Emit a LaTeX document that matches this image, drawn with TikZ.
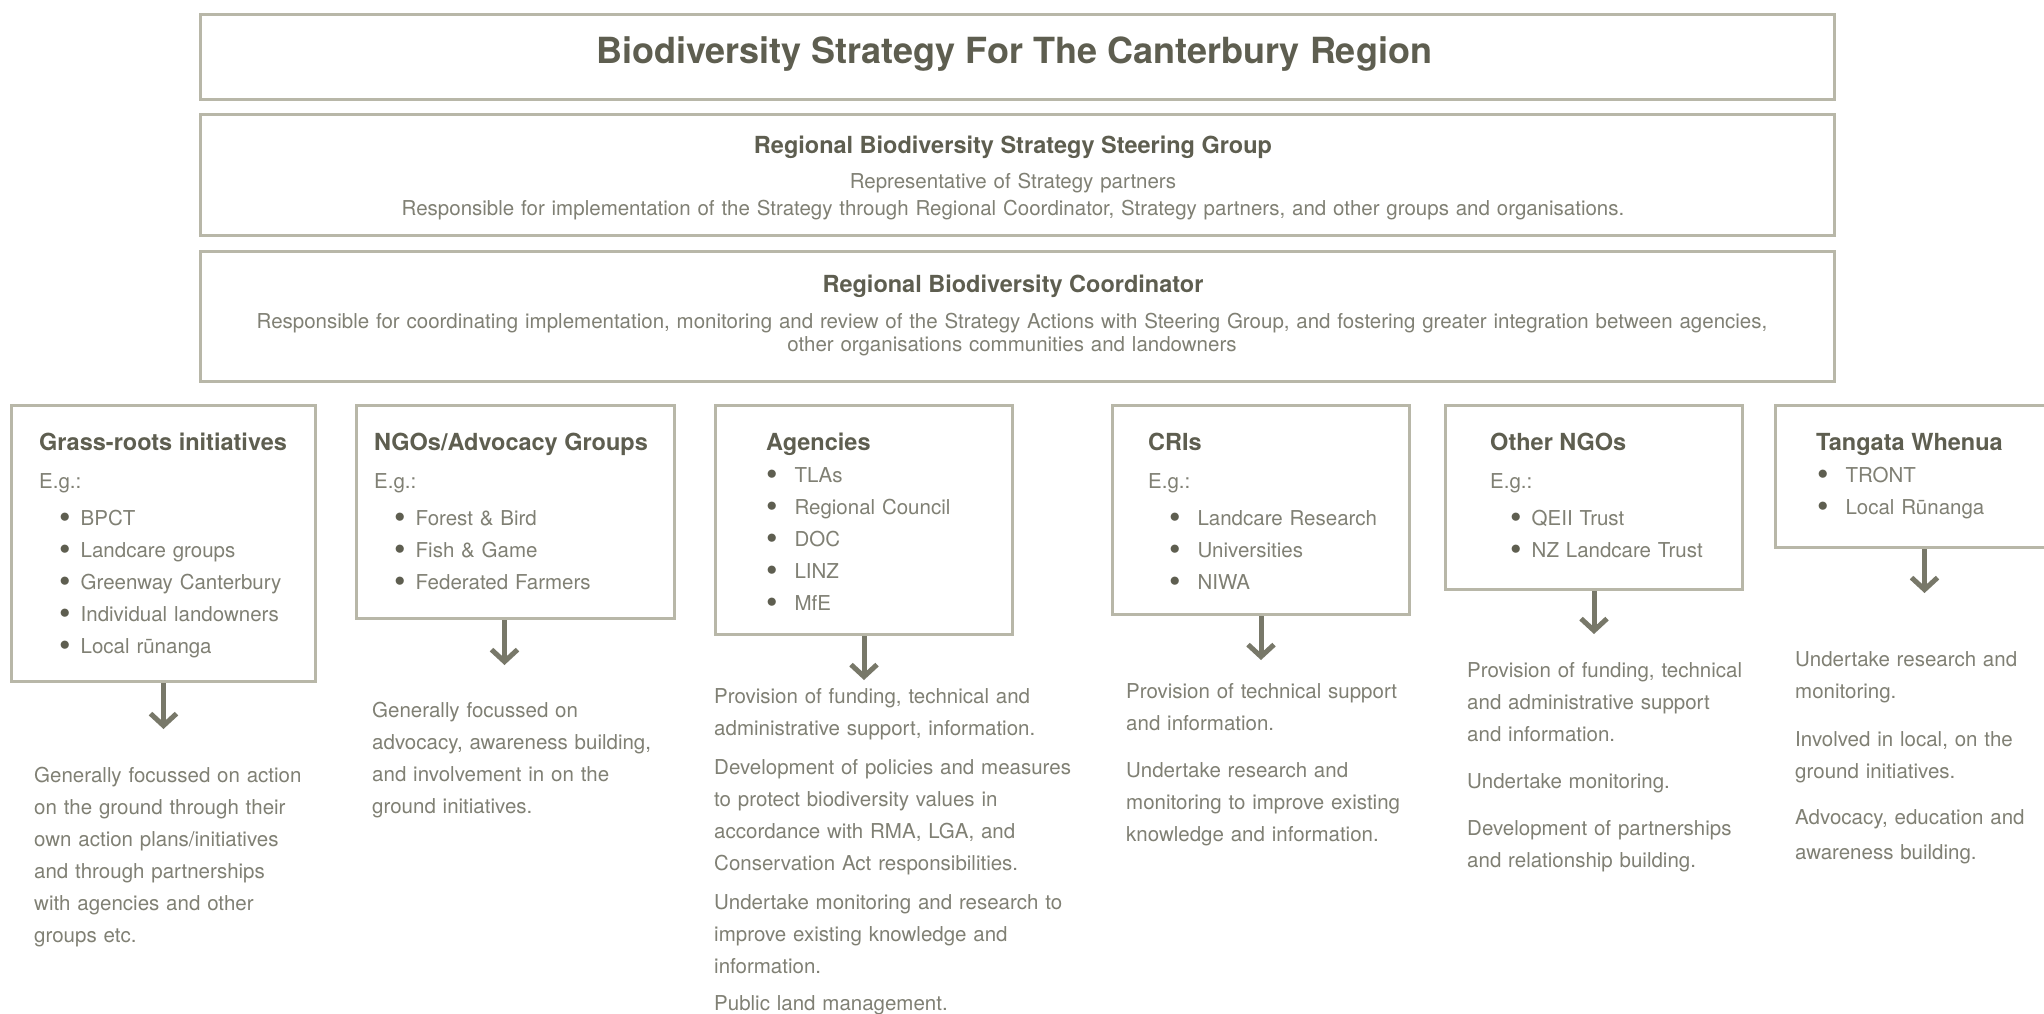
\documentclass[tikz,border=0pt]{standalone}
\usepackage{fontspec}
\setmainfont{TeX Gyre Heros}
\usetikzlibrary{
    positioning,
    arrows.meta
}
\definecolor{boxline}{RGB}{184,183,168}
\definecolor{headink}{RGB}{94,94,80}
\definecolor{bodyink}{RGB}{128,128,116}
\definecolor{arrowink}{RGB}{120,120,105}
% bullet item: space before the dot, then a larger dot
\newcommand{\itm}[1][20pt]{\hspace*{#1}{\color{headink}\raisebox{-3pt}{\scalebox{1.6}{\textbullet}}}\hspace{10pt}}
\tikzset{
  box/.style={
    draw=boxline,
    line width=3pt,
    inner sep=0pt,
    anchor=north west
  },
  maintitle/.style={
    anchor=base,
    inner sep=0pt,
    text=headink,
    font=\fontsize{36}{40}\selectfont\bfseries
  },
  head/.style={
    anchor=base west,
    inner sep=0pt,
    text=headink,
    font=\fontsize{23.5}{28}\selectfont\bfseries
  },
  body/.style={
    anchor=base west,
    inner sep=0pt,
    text=bodyink,
    text width=360pt,
    align=left,
    font=\fontsize{20.5}{32}\selectfont
  },
  centrebody/.style={
    anchor=base,
    inner sep=0pt,
    text=bodyink,
    text width=1600pt,
    align=center,
    font=\fontsize{20.5}{27}\selectfont
  },
  flow/.style={
    draw=arrowink,
    line width=5pt,
    -{Straight Barb[length=12pt,width=26pt]}
  }
}

\begin{document}
\begin{tikzpicture}[x=1pt,y=-1pt]
    \useasboundingbox (0,0) rectangle (2044,1013);
    \clip (0,0) rectangle (2044,1013);
    \fill[white] (0,0) rectangle (2044,1013);

    % top boxes
    \node[box,minimum width=1634,minimum height=85] (strategy) at (199,13) {};
    \node[box,minimum width=1634,minimum height=121] (steering) at (199,113) {};
    \node[box,minimum width=1634,minimum height=130] (coord) at (199,250) {};

    \node[maintitle] (strategytitle) at (1014,63) {Biodiversity Strategy For The Canterbury Region};
    \node[head,anchor=base] (steeringhead) at (1013,153) {Regional Biodiversity Strategy Steering Group};
    \node[centrebody] (steeringbody) at (1013,188) {Representative of Strategy partners\\
      Responsible for implementation of the Strategy through Regional Coordinator, Strategy partners, and other groups and organisations.};
    \node[head,anchor=base] (coordhead) at (1013,292) {Regional Biodiversity Coordinator};
    \node[centrebody,font=\fontsize{20.5}{23}\selectfont] (coordbody) at (1012,328) {Responsible for coordinating implementation, monitoring and review of the Strategy Actions with Steering Group, and fostering greater integration between agencies,\\
      other organisations communities and landowners};

    % partner boxes
    \node[box,minimum width=304,minimum height=276] (grass) at (10,404) {};
    \node[box,minimum width=318,minimum height=213] (ngo) at (355,404) {};
    \node[box,minimum width=297,minimum height=229] (agency) at (714,404) {};
    \node[box,minimum width=297,minimum height=209] (cri) at (1111,404) {};
    \node[box,minimum width=297,minimum height=184] (other) at (1444,404) {};
    \node[box,minimum width=298,minimum height=142] (tangata) at (1774,404) {};

    \node[head] (grasshead) at (39,450) {Grass-roots initiatives};
    \node[body] (grasslist) at (39,488) {E.g.:\\[5pt]
      \itm BPCT\\
      \itm Landcare groups\\
      \itm Greenway Canterbury\\
      \itm Individual landowners\\
      \itm Local rūnanga};

    \node[head] (ngohead) at (374,450) {NGOs/Advocacy Groups};
    \node[body] (ngolist) at (374,488) {E.g.:\\[5pt]
      \itm Forest \& Bird\\
      \itm Fish \& Game\\
      \itm Federated Farmers};

    \node[head] (agencyhead) at (766,450) {Agencies};
    \node[body] (agencylist) at (766,482) {\itm[0pt] TLAs\\
      \itm[0pt] Regional Council\\
      \itm[0pt] DOC\\
      \itm[0pt] LINZ\\
      \itm[0pt] MfE};

    \node[head] (crihead) at (1148,450) {CRIs};
    \node[body] (crilist) at (1148,488) {E.g.:\\[5pt]
      \itm[21pt] Landcare Research\\
      \itm[21pt] Universities\\
      \itm[21pt] NIWA};

    \node[head] (otherhead) at (1490,450) {Other NGOs};
    \node[body] (otherlist) at (1490,488) {E.g.:\\[5pt]
      \itm QEII Trust\\
      \itm NZ Landcare Trust};

    \node[head] (tangatahead) at (1816,450) {Tangata Whenua};
    \node[body,text width=220pt] (tangatalist) at (1816,482) {\itm[1pt] TRONT\\
      \itm[1pt] Local Rūnanga};

    % arrow ends
    \coordinate[below=46pt of grass] (grassend);
    \coordinate (ngofoot) at ([xshift=-11pt]ngo.south);
    \coordinate[below=45pt of ngofoot] (ngoend);
    \coordinate[below=44pt of agency] (agencyend);
    \coordinate[below=44pt of cri] (criend);
    \coordinate[below=43pt of other] (otherend);
    \coordinate[below=44pt of tangata] (tangataend);

    \draw[flow] (grass) -- (grassend);
    \draw[flow] (ngofoot) -- (ngoend);
    \draw[flow] (agency) -- (agencyend);
    \draw[flow] (cri) -- (criend);
    \draw[flow] (other) -- (otherend);
    \draw[flow] (tangata) -- (tangataend);

    % what each group does
    \node[body] (grassdesc) at (34,782) {Generally focussed on action\\
      on the ground through their\\
      own action plans/initiatives\\
      and through partnerships\\
      with agencies and other\\
      groups etc.};
    \node[body] (ngodesc) at (372,717) {Generally focussed on\\
      advocacy, awareness building,\\
      and involvement in on the\\
      ground initiatives.};
    \node[body] (agencydesc) at (714,703) {Provision of funding, technical and\\
      administrative support, information.\\[7pt]
      Development of policies and measures\\
      to protect biodiversity values in\\
      accordance with RMA, LGA, and\\
      Conservation Act responsibilities.\\[7pt]
      Undertake monitoring and research to\\
      improve existing knowledge and\\
      information.\\[5pt]
      Public land management.};
    \node[body] (cridesc) at (1126,698) {Provision of technical support\\
      and information.\\[15pt]
      Undertake research and\\
      monitoring to improve existing\\
      knowledge and information.};
    \node[body] (otherdesc) at (1467,677) {Provision of funding, technical\\
      and administrative support\\
      and information.\\[15pt]
      Undertake monitoring.\\[15pt]
      Development of partnerships\\
      and relationship building.};
    \node[body,text width=249pt] (tangatadesc) at (1795,666) {Undertake research and\\
      monitoring.\\[16pt]
      Involved in local, on the\\
      ground initiatives.\\[14pt]
      Advocacy, education and\\[3pt]
      awareness building.};
\end{tikzpicture}
\end{document}
